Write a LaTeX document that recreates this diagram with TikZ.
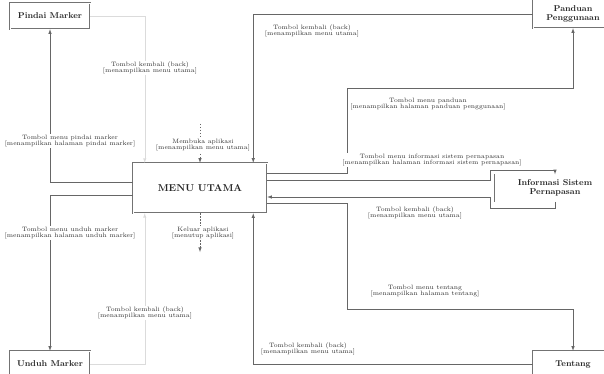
\documentclass[tikz,border=0pt]{standalone}
\usepackage{xcolor}
\usepackage{tikz}
\usetikzlibrary{positioning,calc}
\tikzset{
	menubox/.style={rectangle, draw=black!55, double=white, double distance=0.7pt, fill=white, line width=0.5pt, inner sep=0pt, font=\fontsize{10}{12}\selectfont\bfseries, text=black!85},
	pagebox/.style={rectangle, draw=black!55, double=white, double distance=0.7pt, fill=white, line width=0.5pt, inner sep=0pt, align=center, font=\fontsize{8.5}{10}\selectfont\bfseries, text=black!85},
	lbl/.style={align=center, inner sep=1pt, fill=white, text=black!80, font=\fontsize{6.3}{6.6}\selectfont},
	flow/.style={draw=black!60, line width=0.6pt, -latex},
	faintflow/.style={draw=black!14, line width=0.5pt, -latex},
	mydashed/.style={dash pattern=on 1.5pt off 1.5pt}
}

\begin{document}
\begin{tikzpicture}[x=1pt, y=-1pt]
		
		\useasboundingbox (0,0) rectangle (604,374);
		\fill[white] (0,0) rectangle (604,374);
		\clip (0,0) rectangle (604,374);
		
		\node[menubox, minimum width=134pt, minimum height=50pt] at (200,188) (menu) {MENU UTAMA};
		\node[pagebox, minimum width=80pt, minimum height=26pt] at (50,16) (pindai) {Pindai Marker};
		\node[pagebox, minimum width=80pt, minimum height=26pt] at (50,364) (unduh) {Unduh Marker};
		\node[pagebox, minimum width=80pt, minimum height=28pt] at (573,14) (panduan) {Panduan\\[-1pt]Penggunaan};
		\node[pagebox, minimum width=120pt, minimum height=27pt] at (555,188) (info) {Informasi Sistem\\[-1pt]Pernapasan};
		\node[pagebox, minimum width=80pt, minimum height=26pt] at (573,364) (tentang) {Tentang};
		
		\coordinate (buka) at (200,124);
		\coordinate (tutup) at (200,252);
		\coordinate (pk) at (347,88);
		\coordinate (tk) at (347,309);
		\coordinate (ik1) at (490,170);
		\coordinate (ik2) at (490,208);
		
		% masuk dan keluar aplikasi
		\draw[flow, mydashed] (buka) -- (menu.north);
		\draw[flow, mydashed] (menu.south) -- (tutup);
		
		% kiri
		\draw[flow] ([yshift=6pt]menu.west) -| (pindai.south);
		\draw[flow] ([yshift=-7pt]menu.west) -| (unduh.north);
		\draw[faintflow] (pindai.east) -| ([xshift=12pt]menu.north west);
		\draw[faintflow] (unduh.east) -| ([xshift=12pt]menu.south west);
		
		% kanan
		\draw[flow] (panduan.west) -| ([xshift=-14pt]menu.north east);
		\draw[flow] ([yshift=15pt]menu.east) -| (pk) -| (panduan.south);
		\draw[flow] ([yshift=8pt]menu.east) -| (ik1) -| (info.north);
		\draw[flow] (info.south) |- (ik2) |- ([yshift=-9pt]menu.east);
		\draw[flow] ([yshift=-15pt]menu.east) -| (tk) -| (tentang.north);
		\draw[flow] (tentang.west) -| ([xshift=-14pt]menu.south east);
		
		\node[lbl] at (203,145) (lbuka) {Membuka aplikasi\\{[}menampilkan menu utama{]}};
		\node[lbl] at (203,233) (ltutup) {Keluar aplikasi\\{[}menutup aplikasi{]}};
		\node[lbl] at (70,141) (lpindai) {Tombol menu pindai marker\\{[}menampilkan halaman pindai marker{]}};
		\node[lbl] at (70,233) (lunduh) {Tombol menu unduh marker\\{[}menampilkan halaman unduh marker{]}};
		\node[lbl] at (150,68) (lpindaik) {Tombol kembali (back)\\{[}menampilkan menu utama{]}};
		\node[lbl] at (145,313) (lunduhk) {Tombol kembali (back)\\{[}menampilkan menu utama{]}};
		\node[lbl] at (312,31) (lpandk) {Tombol kembali (back)\\{[}menampilkan menu utama{]}};
		\node[lbl] at (308,349) (ltentk) {Tombol kembali (back)\\{[}menampilkan menu utama{]}};
		\node[lbl] at (428,104) (lpand) {Tombol menu panduan\\{[}menampilkan halaman panduan penggunaan{]}};
		\node[lbl] at (432,160) (linfo) {Tombol menu informasi sistem pernapasan\\{[}menampilkan halaman informasi sistem pernapasan{]}};
		\node[lbl] at (415,213) (linfok) {Tombol kembali (back)\\{[}menampilkan menu utama{]}};
		\node[lbl] at (425,291) (ltent) {Tombol menu tentang\\{[}menampilkan halaman tentang{]}};
	\end{tikzpicture}
\end{document}
